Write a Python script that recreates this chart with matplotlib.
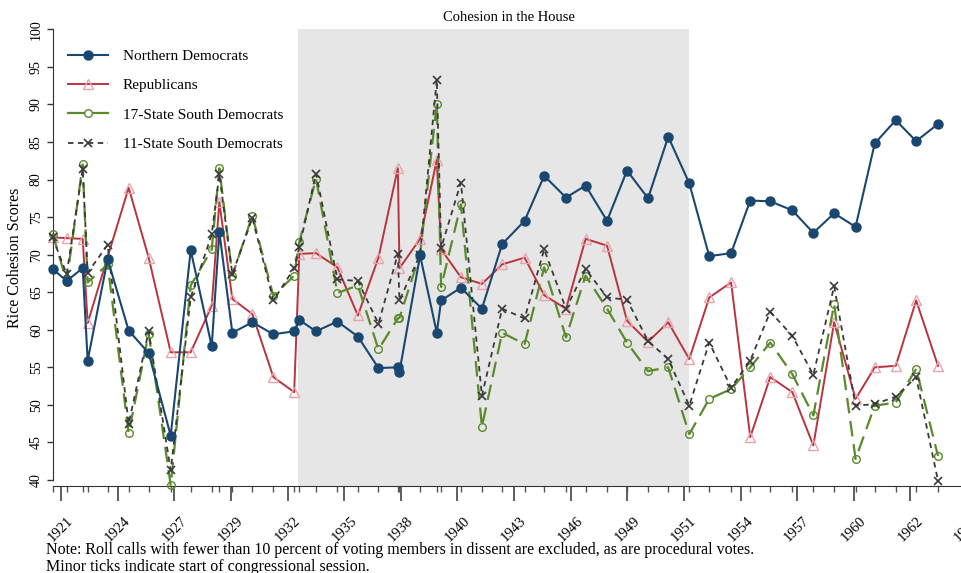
import matplotlib
matplotlib.use('Agg')
import matplotlib.pyplot as plt
from matplotlib.lines import Line2D

# Start of each congressional session (decimal year)
sessions = [1921.20, 1921.88, 1922.66, 1922.90, 1923.87, 1924.89, 1925.86, 1926.93, 1927.90, 1928.92,
            1929.29, 1929.92, 1930.89, 1931.91, 1932.92, 1933.17, 1933.98, 1935.02, 1936.01, 1937.01,
            1937.95, 1938.03, 1939.03, 1939.84, 1940.05, 1941.01, 1942.03, 1943.01, 1944.10, 1945.05,
            1946.11, 1947.06, 1948.10, 1949.07, 1950.09, 1951.07, 1952.09, 1953.06, 1954.12, 1955.05,
            1956.02, 1957.09, 1958.11, 1959.12, 1960.16, 1961.09, 1962.11, 1963.10, 1964.16]

northern_dems = [68.1, 66.5, 68.2, 55.9, 69.4, 59.9, 56.9, 45.9, 70.6, 57.8,
                 73.0, 59.6, 61.0, 59.4, 59.8, 61.3, 59.8, 61.1, 59.1, 54.9,
                 55.0, 54.4, 69.9, 59.6, 63.9, 65.6, 62.8, 71.4, 74.5, 80.5,
                 77.6, 79.2, 74.5, 81.2, 77.5, 85.7, 79.5, 69.8, 70.2, 77.2,
                 77.1, 75.9, 72.9, 75.5, 73.7, 84.8, 87.9, 85.1, 87.4]

republicans = [72.3, 72.2, 72.1, 60.9, 69.7, 78.9, 69.6, 57.0, 57.0, 63.2,
               77.0, 64.1, 62.1, 53.7, 51.7, 70.1, 70.2, 68.3, 61.9, 69.6,
               81.5, 68.2, 72.1, 82.6, 70.7, 67.0, 66.1, 68.7, 69.6, 64.6,
               62.8, 72.1, 71.2, 61.2, 58.4, 61.0, 56.1, 64.3, 66.3, 45.7,
               53.7, 51.7, 44.6, 61.0, 50.8, 55.0, 55.2, 63.9, 55.2]

south17 = [72.8, 66.4, 82.0, 66.3, 68.7, 46.2, 59.5, 39.3, 65.9, 70.7,
           81.5, 67.2, 75.2, 64.5, 67.2, 71.7, 80.1, 64.9, 65.9, 57.4,
           61.5, 61.6, 70.1, 90.1, 65.7, 76.7, 47.1, 59.6, 58.1, 68.3,
           59.0, 67.2, 62.8, 58.3, 54.5, 55.0, 46.1, 50.8, 52.1, 55.0,
           58.3, 54.1, 48.6, 63.4, 42.8, 49.9, 50.3, 54.8, 43.2]

south11 = [72.3, 67.4, 81.4, 67.6, 71.3, 47.5, 59.8, 41.3, 64.3, 72.7,
           80.7, 67.4, 74.9, 63.9, 68.2, 71.0, 80.8, 66.7, 66.5, 60.8,
           70.1, 63.9, 70.0, 93.3, 70.9, 79.6, 51.2, 62.8, 61.5, 70.7,
           62.8, 68.1, 64.3, 64.0, 58.5, 56.1, 49.9, 58.3, 52.3, 55.9,
           62.4, 59.2, 54.0, 65.8, 49.9, 50.1, 51.1, 53.7, 39.9]

# major ticks every ~1000 days, labelled by year
tick_years = [1921.61, 1924.35, 1927.10, 1929.85, 1932.60, 1935.35, 1938.09, 1940.84, 1943.59,
              1946.34, 1949.08, 1951.83, 1954.58, 1957.32, 1960.07, 1962.82, 1965.57]
tick_labels = ['1921', '1924', '1927', '1929', '1932', '1935', '1938', '1940', '1943',
               '1946', '1949', '1951', '1954', '1957', '1960', '1962', '1965']

# New Deal / Fair Deal era
shade_start, shade_end = 1933.11, 1952.09

plt.rcParams['font.family'] = ['Liberation Serif', 'DejaVu Serif']

navy = '#1a476f'
red = '#b8343f'
pink = '#eba3ab'
green = '#5a8a2c'
gray = '#3a3a3a'

fig = plt.figure(figsize=(9.62, 5.73), dpi=100)
ax = fig.add_axes([0.0547, 0.1518, 0.9555, 0.7971])

ax.axvspan(shade_start, shade_end, color='#e6e6e6', lw=0, zorder=0)

ax.plot(sessions, republicans, color=red, lw=1.4, marker='^', ms=7, mfc='none',
        mec=pink, mew=1.0, zorder=2, clip_on=False)
ax.plot(sessions, south17, color=green, lw=1.6, dashes=(7, 3.5), marker='o', ms=5.5,
        mfc='none', mec=green, mew=1.0, zorder=3, clip_on=False)
ax.plot(sessions, south11, color=gray, lw=1.3, dashes=(3, 2.5), marker='x', ms=6,
        mew=1.2, zorder=4, clip_on=False)
ax.plot(sessions, northern_dems, color=navy, lw=1.5, marker='o', ms=6.5, mfc=navy,
        mec=navy, zorder=5, clip_on=False)

ax.set_xlim(1921.2, 1965.8)
ax.set_ylim(39.2, 100)
ax.set_yticks(range(40, 101, 5))
ax.set_xticks(tick_years)
ax.set_xticklabels(tick_labels, rotation=45, ha='center', va='top', fontsize=10.5)
ax.set_xticks(sessions, minor=True)
ax.tick_params(axis='x', which='major', length=11, width=1.1, pad=9, color='#333333')
ax.tick_params(axis='x', which='minor', length=4.5, width=1.0, color='#555555')
ax.tick_params(axis='y', length=4, width=1.0, pad=3, color='#333333', labelsize=10)
for lab in ax.get_yticklabels():
    lab.set_rotation(90)
    lab.set_va('center')

for side in ['top', 'right']:
    ax.spines[side].set_visible(False)
ax.spines['left'].set_color('#333333')
ax.spines['bottom'].set_color('#333333')
ax.spines['left'].set_bounds(40, 100)

ax.set_ylabel('Rice Cohesion Scores', fontsize=11.5, labelpad=5)
fig.text(0.529, 0.970, 'Cohesion in the House', ha='center', va='center', fontsize=10.5)

handles = [
    Line2D([], [], color=navy, lw=1.5, marker='o', ms=6.5, mfc=navy, mec=navy),
    Line2D([], [], color=red, lw=1.4, marker='^', ms=7, mfc='none', mec=pink),
    Line2D([], [], color=green, lw=1.6, marker='o', ms=5.5, mfc='white', mec=green),
    Line2D([], [], color=gray, lw=1.3, dashes=(3, 2.5), marker='x', ms=6, mew=1.2),
]
labels = ['Northern Democrats', 'Republicans', '17-State South Democrats', '11-State South Democrats']
ax.legend(handles, labels, loc='upper left', bbox_to_anchor=(68 / 962, 1 - 49.5 / 573),
          bbox_transform=fig.transFigure, frameon=False, fontsize=11, handlelength=2.6,
          handletextpad=1.0, labelspacing=1.02, borderpad=0, borderaxespad=0)

fig.text(0.048, 0.0255, 'Note: Roll calls with fewer than 10 percent of voting members in dissent are excluded, '
         'as are procedural votes.\nMinor ticks indicate start of congressional session.',
         ha='left', va='center', fontsize=11.5, linespacing=1.05)

fig.savefig('out.png', dpi=100)
